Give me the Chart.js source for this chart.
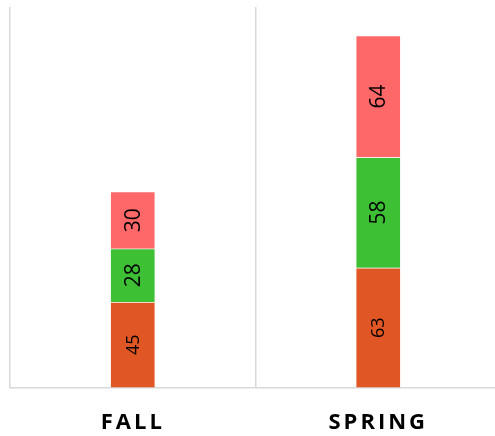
<!DOCTYPE html>
<html>
<head>
<meta charset="utf-8">
<script src="https://cdn.jsdelivr.net/npm/chart.js@4/dist/chart.umd.min.js"></script>
<style>
  html, body { margin: 0; padding: 0; background: #fff; overflow: hidden; }
  canvas { display: block; }
</style>
</head>
<body>
<canvas id="myChart" width="502" height="436"></canvas>
<script>
const terms = ["FALL", "SPRING"];
const bottomSeg = [45, 63];
const middleSeg = [28, 58];
const topSeg = [30, 64];

// label size per segment (bottom one is drawn a bit smaller)
const labelSizes = [18, 21, 21];

const segColors = ["#E05624", "#3EC035", "#FF6868"];

// bar labels, rotated to read bottom-to-top
const rotatedLabels = {
  id: "rotatedLabels",
  afterDatasetsDraw(chart) {
    const { ctx } = chart;
    ctx.save();
    ctx.letterSpacing = "0px";
    chart.data.datasets.forEach((ds, i) => {
      const meta = chart.getDatasetMeta(i);
      meta.data.forEach((bar, j) => {
        const cy = (bar.y + bar.base) / 2;
        ctx.save();
        ctx.translate(bar.x, cy);
        ctx.rotate(-Math.PI / 2);
        ctx.font = `${labelSizes[i]}px "Open Sans"`;
        ctx.fillStyle = "#000";
        ctx.textAlign = "center";
        ctx.textBaseline = "middle";
        ctx.fillText(ds.data[j], 0, 1);
        ctx.restore();
      });
    });
    ctx.restore();
  },
};

// spaced-out category names
const spacedTicks = {
  id: "spacedTicks",
  beforeDraw(chart) {
    chart.ctx.letterSpacing = "3px";
  },
  beforeDatasetsDraw(chart) {
    chart.ctx.letterSpacing = "0px";
  },
};

const ctx = document.querySelector("canvas#myChart").getContext("2d");
const myChart = new Chart(ctx, {
  type: "bar",
  data: {
    labels: terms,
    datasets: [
      { label: "bottom", data: bottomSeg, backgroundColor: segColors[0] },
      { label: "middle", data: middleSeg, backgroundColor: segColors[1] },
      { label: "top", data: topSeg, backgroundColor: segColors[2] },
    ].map((d) => ({ ...d, borderColor: "rgba(255,255,255,0.35)", borderWidth: 1, barThickness: 45 })),
  },
  options: {
    responsive: false,
    animation: false,
    layout: { padding: { top: 7, left: 10, right: 1, bottom: -22 } },
    plugins: { legend: { display: false }, tooltip: { enabled: false } },
    scales: {
      x: {
        stacked: true,
        grid: { color: "#D9D9D9", lineWidth: 1.5, drawTicks: false, offset: true },
        border: { color: "#D9D9D9", width: 1.5 },
        ticks: {
          color: "#000",
          padding: 22,
          font: { family: "Open Sans", size: 22, weight: "bold" },
        },
      },
      y: { stacked: true, display: false, min: 0, max: 200 },
    },
  },
  plugins: [rotatedLabels, spacedTicks],
});
</script>
</body>
</html>
